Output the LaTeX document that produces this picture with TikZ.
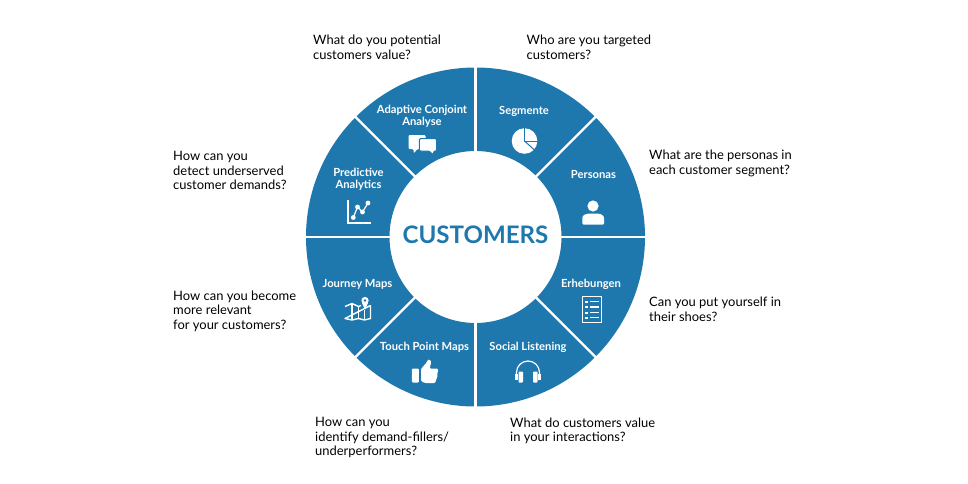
\documentclass[tikz,border=0pt]{standalone}
\usepackage{fontspec}
\setmainfont{Lato}
\definecolor{ringblue}{HTML}{1F78AD}
\tikzset{
  x=1pt,y=1pt,
  seglabel/.style={text=white,font=\bfseries\fontsize{11.2}{12.2}\selectfont,align=center,inner sep=0pt},
  question/.style={text=black,font=\fontsize{12.95}{14.4}\selectfont,align=left,anchor=north west,inner sep=0pt},
  icoline/.style={draw=white,line width=1.3pt,fill=none,line join=round},
  icocut/.style={draw=ringblue,line width=1pt},
}
\begin{document}
\begin{tikzpicture}
\useasboundingbox (0,0) rectangle (968,-484);
\fill[white] (0,0) rectangle (968,-484);
\begin{scope}[shift={(475.5,-237)}]
  \fill[ringblue,even odd rule] (0,0) circle[radius=169.5] (0,0) circle[radius=86];
  \foreach \a in {0,45,...,315}
    \draw[white,line width=2.4pt] (\a:85) -- (\a:171);
\end{scope}
\begin{scope}[y=-1pt]
  \node[text=ringblue,font=\bfseries\fontsize{24.1}{26}\selectfont,inner sep=0pt] (title) at (475.5,235) {CUSTOMERS};
  % segment labels
  \node[seglabel] (l1) at (422,116.5) {Adaptive Conjoint\\Analyse};
  \node[seglabel] (l2) at (524,111) {Segmente};
  \node[seglabel] (l3) at (593.5,174.5) {Personas};
  \node[seglabel] (l4) at (591,284) {Erhebungen};
  \node[seglabel] (l5) at (528,347) {Social Listening};
  \node[seglabel] (l6) at (424.5,347) {Touch Point Maps};
  \node[seglabel] (l7) at (357.5,284) {Journey Maps};
  \node[seglabel] (l8) at (358.5,179.5) {Predictive\\Analytics};
  % questions
  \node[question] (q1) at (313,35) {What do you potential\\customers value?};
  \node[question] (q2) at (526.5,35) {Who are you targeted\\customers?};
  \node[question] (q3) at (649,150) {What are the personas in\\each customer segment?};
  \node[question] (q4) at (649,297) {Can you put yourself in\\their shoes?};
  \node[question] (q5) at (510,417.5) {What do customers value\\in your interactions?};
  \node[question] (q6) at (315,417.5) {How can you\\identify demand-fillers/\\underperformers?};
  \node[question] (q7) at (173,290.5) {How can you become\\more relevant\\for your customers?};
  \node[question] (q8) at (173,151.5) {How can you\\detect underserved\\customer demands?};
  % speech bubbles
  \fill[white,rounded corners=1.2pt] (408.5,135) -- (425.5,135) -- (425.5,149) -- (417.5,149) -- (413.5,153.5) -- (413.5,149) -- (408.5,149) -- cycle;
  \draw[ringblue,line width=1pt,fill=white,rounded corners=1.2pt] (419.3,138.6) -- (436.7,138.6) -- (436.7,151) -- (433.5,151) -- (433.5,155) -- (429,151) -- (419.3,151) -- cycle;
  % pie chart
  \fill[white] (524.5,141) circle[radius=12.8];
  \draw[icocut] (524.5,127.5) -- (524.5,141) -- (538,141);
  \draw[icocut] (524.5,141) -- (535,150.5);
  % person
  \fill[white] (593,206) circle[radius=5.6];
  \fill[white,rounded corners=1pt] (582.3,224.5) -- (582.3,219) .. controls (582.3,215) and (586,213.7) .. (589,213.7) -- (597,213.7) .. controls (600,213.7) and (604,215) .. (604,219) -- (604,224.5) -- cycle;
  % questionnaire
  \draw[icoline] (582.5,296.5) rectangle (601.5,322.5);
  \foreach \yy in {301.5,307,312.5,317.5}{
    \fill[white] (585.3,\yy-1) rectangle (587.6,\yy+1);
    \fill[white] (590,\yy-.7) rectangle (598.8,\yy+.7);
  }
  % headphones
  \draw[white,line width=1.2pt] (516.5,376) -- (516.5,372.5) arc[start angle=180,end angle=360,radius=11.5] -- (539.5,376);
  \fill[white,rounded corners=.8pt] (518.5,371.5) rectangle (523,382.5);
  \fill[white,rounded corners=.8pt] (533,371.5) rectangle (537.5,382.5);
  \fill[white] (515,374) rectangle (518,379.5);
  \fill[white] (538,374) rectangle (541,379.5);
  % thumb up
  \fill[white,rounded corners=1pt] (411.8,368.5) rectangle (418.8,382.5);
  \fill[white,rounded corners=1pt] (421,369) -- (427,362) .. controls (427.5,360) and (428.5,359.5) .. (429.5,360) .. controls (431.5,361) and (431,365) .. (429.5,368.5) -- (436.5,368.5) .. controls (438.5,369) and (438,372) .. (437,373) .. controls (437.8,375.5) and (437,378) .. (436,379) .. controls (436.2,381.5) and (435,383) .. (433,383) -- (425,383) -- (421,381) -- cycle;
  % map
  \draw[white,line width=1.4pt,line join=round] (345,306.5) -- (352,303.5) -- (358.5,306.5) -- (361,305.5) (369.5,306) -- (370.5,305.7) -- (370.5,318.5) -- (364.5,320) -- (358.5,318.5) -- (352,320) -- (345,318.5) -- cycle;
  \draw[white,line width=1.4pt] (352,303.5) -- (352,320) (358.5,306.5) -- (358.5,318.5) (364.5,310) -- (364.5,320);
  \fill[white] (365,300.5) circle[radius=3.6];
  \fill[white] (361.8,302.5) -- (365,309.5) -- (368.2,302.5) -- cycle;
  \fill[ringblue] (365,300.5) circle[radius=1.3];
  % line chart
  \draw[icoline,line width=1.2pt,line join=miter] (348,200) -- (348,223) -- (370.5,223);
  \draw[white,line width=1.2pt] (353.3,217.5) -- (357.5,207) -- (362.5,212) -- (368,203);
  \foreach \p in {(353.3,217.5),(357.5,207),(362.5,212),(368,203)}
    \fill[white] \p circle[radius=2.4];
\end{scope}
\end{tikzpicture}
\end{document}
